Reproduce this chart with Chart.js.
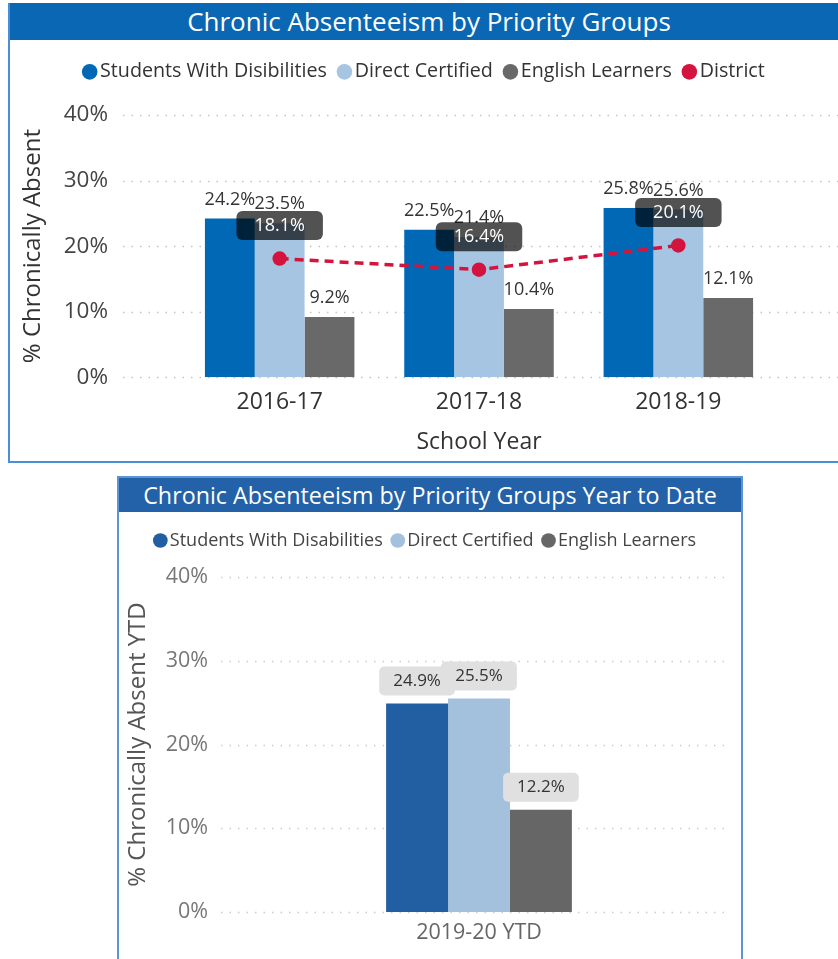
<!DOCTYPE html>
<html>
<head>
<meta charset="utf-8">
<title>Chronic Absenteeism by Priority Groups</title>
<script src="https://cdn.jsdelivr.net/npm/chart.js@4.4.1/dist/chart.umd.min.js"></script>
<style>
  html, body { margin: 0; padding: 0; background: #fff; overflow: hidden; }
  body { width: 838px; height: 959px; position: relative; font-family: 'Open Sans', sans-serif; }
  .panel { position: absolute; box-sizing: border-box; }
  #panelTop { left: 8px; top: 3px; width: 840px; height: 460px; border-left: 2px solid #4a8fd6; border-bottom: 2px solid #4a8fd6; }
  #panelYtd { left: 117px; top: 476px; width: 626px; height: 500px; border: 2px solid #5d95d4; }
  .bar-title { position: absolute; left: 0; right: 0; top: 0; color: #fff; text-align: center; white-space: nowrap; }
  #panelTop .bar-title { height: 37px; line-height: 37px; background: #0a67b3; font-size: 26px; }
  #panelYtd .bar-title { height: 34px; line-height: 34px; background: #2361a8; font-size: 23.3px; }
  canvas { position: absolute; }
  #chartTop { left: 0; top: 40px; }
  #chartYtd { left: 119px; top: 512px; }
</style>
</head>
<body>
<div class="panel" id="panelTop"><div class="bar-title">Chronic Absenteeism by Priority Groups</div></div>
<div class="panel" id="panelYtd"><div class="bar-title">Chronic Absenteeism by Priority Groups Year to Date</div></div>
<canvas id="chartTop" width="838" height="421"></canvas>
<canvas id="chartYtd" width="621" height="447"></canvas>
<script>
// values (percent)
const schoolYears = ['2016-17', '2017-18', '2018-19'];
const swd = [24.2, 22.5, 25.8];
const directCertified = [23.5, 21.4, 25.6];
const englishLearners = [9.2, 10.4, 12.1];
const district = [18.1, 16.4, 20.1];

const ytdYears = ['2019-20 YTD'];
const ytdSwd = [24.9];
const ytdDirect = [25.5];
const ytdEnglish = [12.2];

const pctTicks = [0, 10, 20, 30, 40];

Chart.defaults.font.family = "'Open Sans', sans-serif";
Chart.defaults.animation = false;

const pct = (v) => v.toFixed(1) + '%';

// dotted horizontal grid lines, wider than the category area
const dotGrid = {
  id: 'dotGrid',
  beforeDatasetsDraw(chart, args, opts) {
    const y = chart.scales.y;
    const ctx = chart.ctx;
    ctx.save();
    ctx.strokeStyle = opts.color;
    ctx.lineWidth = 1.5;
    ctx.setLineDash([1.5, 7]);
    y.ticks.forEach((t) => {
      const py = Math.round(y.getPixelForValue(t.value)) + 0.5;
      ctx.beginPath();
      ctx.moveTo(opts.from, py);
      ctx.lineTo(opts.to, py);
      ctx.stroke();
    });
    ctx.restore();
  }
};

// fixes the legend block height so the plot starts where the reference does
const legendHeight = {
  id: 'legendHeight',
  beforeInit(chart, args, opts) {
    const legend = chart.legend;
    const fit = legend.fit;
    legend.fit = function () {
      fit.call(this);
      this.height = opts.height;
    };
  }
};

// data labels (no datalabels plugin available offline)
const valueLabels = {
  id: 'valueLabels',
  afterDatasetsDraw(chart, args, opts) {
    const ctx = chart.ctx;
    ctx.save();
    ctx.font = opts.size + "px 'Open Sans'";
    ctx.textAlign = 'center';
    ctx.textBaseline = 'middle';
    chart.data.datasets.forEach((ds, i) => {
      const meta = chart.getDatasetMeta(i);
      meta.data.forEach((el, j) => {
        const txt = pct(ds.data[j]);
        const w = ctx.measureText(txt).width;
        if (ds.type === 'line') {
          const cy = el.y - 33;
          ctx.beginPath();
          ctx.roundRect(el.x - w / 2 - 18, cy - 14.5, w + 36, 29, 6);
          ctx.fillStyle = 'rgba(0,0,0,0.68)';
          ctx.fill();
          ctx.fillStyle = '#fff';
          ctx.fillText(txt, el.x, cy);
        } else if (opts.boxed) {
          const cy = el.y - 22.5;
          ctx.beginPath();
          ctx.roundRect(el.x - w / 2 - 14, cy - 14.5, w + 28, 29, 5);
          ctx.fillStyle = '#e0e0e0';
          ctx.fill();
          ctx.fillStyle = opts.color;
          ctx.fillText(txt, el.x, cy);
        } else {
          ctx.fillStyle = opts.color;
          ctx.fillText(txt, el.x, el.y - 19);
        }
      });
    });
    ctx.restore();
  }
};

const plainLegendItems = (chart) =>
  Chart.defaults.plugins.legend.labels.generateLabels(chart).map((item) => ({
    ...item, lineWidth: 0, lineDash: [], strokeStyle: item.fillStyle
  }));

new Chart(document.getElementById('chartTop'), {
  type: 'bar',
  data: {
    labels: schoolYears,
    datasets: [
      { label: 'Students With Disibilities', data: swd, backgroundColor: '#0068b4', order: 1 },
      { label: 'Direct Certified', data: directCertified, backgroundColor: '#a5c5e3', order: 1 },
      { label: 'English Learners', data: englishLearners, backgroundColor: '#696969', order: 1 },
      {
        type: 'line', label: 'District', data: district, order: 0,
        borderColor: '#d3143e', backgroundColor: '#d3143e',
        borderWidth: 3.5, borderDash: [9, 6], pointRadius: 5.5, pointHoverRadius: 5.5
      }
    ]
  },
  options: {
    responsive: false,
    categoryPercentage: 0.75,
    barPercentage: 1.0,
    layout: { padding: { left: 16, right: 0, top: 5, bottom: 5 } },
    plugins: {
      tooltip: { enabled: false },
      legend: {
        labels: {
          usePointStyle: true, pointStyle: 'circle', boxWidth: 1, boxHeight: 11,
          padding: 17, color: '#333', font: { size: 19.7 },
          sort: (a, b) => a.datasetIndex - b.datasetIndex,
          generateLabels: plainLegendItems
        }
      },
      legendHeight: { height: 70 },
      dotGrid: { from: 123, to: 838, color: '#c4c4c4' },
      valueLabels: { size: 18, color: '#333' }
    },
    scales: {
      x: {
        grid: { display: false, drawTicks: false }, border: { display: false },
        ticks: { color: '#333', font: { size: 23 }, padding: 11 },
        title: { display: true, text: 'School Year', color: '#333', font: { size: 23 }, padding: { top: 1.6, bottom: 0 } }
      },
      y: {
        min: 0, max: 40,
        afterBuildTicks: (s) => { s.ticks = pctTicks.map((v) => ({ value: v })); },
        afterFit: (s) => { s.width = 164; },
        grid: { display: false, tickLength: 62 }, border: { display: false },
        ticks: { color: '#444', font: { size: 22.5 }, padding: 10, callback: (v) => v + '%' },
        title: { display: true, text: '% Chronically Absent', color: '#333', font: { size: 24 }, padding: { top: 3, bottom: 0 } }
      },
      y2: {
        type: 'linear', position: 'right',
        afterFit: (s) => { s.width = 60; },
        grid: { display: false, drawTicks: false }, border: { display: false }, ticks: { display: false }
      }
    }
  },
  plugins: [legendHeight, dotGrid, valueLabels]
});

new Chart(document.getElementById('chartYtd'), {
  type: 'bar',
  data: {
    labels: ytdYears,
    datasets: [
      { label: 'Students With Disabilities', data: ytdSwd, backgroundColor: '#225ea2' },
      { label: 'Direct Certified', data: ytdDirect, backgroundColor: '#a3c0dc' },
      { label: 'English Learners', data: ytdEnglish, backgroundColor: '#666666' }
    ]
  },
  options: {
    responsive: false,
    categoryPercentage: 0.36,
    barPercentage: 1.0,
    layout: { padding: { left: 0, right: 3, top: 5, bottom: 5.2 } },
    plugins: {
      tooltip: { enabled: false },
      legend: {
        labels: {
          usePointStyle: true, pointStyle: 'circle', boxWidth: 1, boxHeight: 10.4,
          padding: 14.5, color: '#444', font: { size: 18 },
          generateLabels: plainLegendItems
        }
      },
      legendHeight: { height: 60 },
      dotGrid: { from: 102, to: 611, color: '#cccccc' },
      valueLabels: { size: 17, color: '#333', boxed: true }
    },
    scales: {
      x: {
        grid: { display: false, drawTicks: false }, border: { display: false },
        ticks: { color: '#666', font: { size: 21.5 }, padding: 8 }
      },
      y: {
        min: 0, max: 40,
        afterBuildTicks: (s) => { s.ticks = pctTicks.map((v) => ({ value: v })); },
        afterFit: (s) => { s.width = 102; },
        grid: { display: false, drawTicks: false }, border: { display: false },
        ticks: { color: '#777', font: { size: 21.5 }, padding: 13, callback: (v) => v + '%' },
        title: { display: true, text: '% Chronically Absent YTD', color: '#555', font: { size: 24 }, padding: { top: 5, bottom: 0 } }
      }
    }
  },
  plugins: [legendHeight, dotGrid, valueLabels]
});
</script>
</body>
</html>
